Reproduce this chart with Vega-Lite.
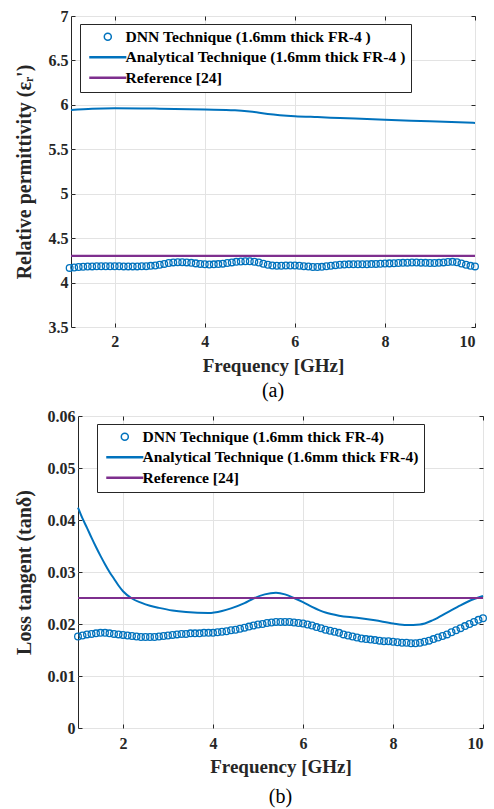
{
  "$schema": "https://vega.github.io/schema/vega-lite/v6.json",
  "padding": {"left": 13, "top": 7, "right": 5, "bottom": 5},
  "spacing": 5,
  "datasets": {
    "eps": [
      {"s":"DNN","f":1.0,"v":4.165},{"s":"DNN","f":1.1,"v":4.170},{"s":"DNN","f":1.2,"v":4.175},{"s":"DNN","f":1.3,"v":4.178},{"s":"DNN","f":1.4,"v":4.180},{"s":"DNN","f":1.5,"v":4.182},{"s":"DNN","f":1.6,"v":4.183},{"s":"DNN","f":1.7,"v":4.183},{"s":"DNN","f":1.8,"v":4.183},{"s":"DNN","f":1.9,"v":4.183},
      {"s":"DNN","f":2.0,"v":4.183},{"s":"DNN","f":2.1,"v":4.183},{"s":"DNN","f":2.2,"v":4.182},{"s":"DNN","f":2.3,"v":4.182},{"s":"DNN","f":2.4,"v":4.182},{"s":"DNN","f":2.5,"v":4.182},{"s":"DNN","f":2.6,"v":4.183},{"s":"DNN","f":2.7,"v":4.185},{"s":"DNN","f":2.8,"v":4.188},{"s":"DNN","f":2.9,"v":4.193},
      {"s":"DNN","f":3.0,"v":4.200},{"s":"DNN","f":3.1,"v":4.210},{"s":"DNN","f":3.2,"v":4.220},{"s":"DNN","f":3.3,"v":4.227},{"s":"DNN","f":3.4,"v":4.230},{"s":"DNN","f":3.5,"v":4.230},{"s":"DNN","f":3.6,"v":4.227},{"s":"DNN","f":3.7,"v":4.222},{"s":"DNN","f":3.8,"v":4.216},{"s":"DNN","f":3.9,"v":4.210},
      {"s":"DNN","f":4.0,"v":4.206},{"s":"DNN","f":4.1,"v":4.204},{"s":"DNN","f":4.2,"v":4.205},{"s":"DNN","f":4.3,"v":4.208},{"s":"DNN","f":4.4,"v":4.213},{"s":"DNN","f":4.5,"v":4.220},{"s":"DNN","f":4.6,"v":4.227},{"s":"DNN","f":4.7,"v":4.233},{"s":"DNN","f":4.8,"v":4.237},{"s":"DNN","f":4.9,"v":4.240},
      {"s":"DNN","f":5.0,"v":4.240},{"s":"DNN","f":5.1,"v":4.235},{"s":"DNN","f":5.2,"v":4.225},{"s":"DNN","f":5.3,"v":4.212},{"s":"DNN","f":5.4,"v":4.200},{"s":"DNN","f":5.5,"v":4.193},{"s":"DNN","f":5.6,"v":4.190},{"s":"DNN","f":5.7,"v":4.190},{"s":"DNN","f":5.8,"v":4.192},{"s":"DNN","f":5.9,"v":4.193},
      {"s":"DNN","f":6.0,"v":4.193},{"s":"DNN","f":6.1,"v":4.190},{"s":"DNN","f":6.2,"v":4.185},{"s":"DNN","f":6.3,"v":4.180},{"s":"DNN","f":6.4,"v":4.176},{"s":"DNN","f":6.5,"v":4.175},{"s":"DNN","f":6.6,"v":4.177},{"s":"DNN","f":6.7,"v":4.183},{"s":"DNN","f":6.8,"v":4.190},{"s":"DNN","f":6.9,"v":4.196},
      {"s":"DNN","f":7.0,"v":4.200},{"s":"DNN","f":7.1,"v":4.203},{"s":"DNN","f":7.2,"v":4.205},{"s":"DNN","f":7.3,"v":4.206},{"s":"DNN","f":7.4,"v":4.206},{"s":"DNN","f":7.5,"v":4.206},{"s":"DNN","f":7.6,"v":4.207},{"s":"DNN","f":7.7,"v":4.208},{"s":"DNN","f":7.8,"v":4.210},{"s":"DNN","f":7.9,"v":4.212},
      {"s":"DNN","f":8.0,"v":4.214},{"s":"DNN","f":8.1,"v":4.216},{"s":"DNN","f":8.2,"v":4.218},{"s":"DNN","f":8.3,"v":4.220},{"s":"DNN","f":8.4,"v":4.222},{"s":"DNN","f":8.5,"v":4.224},{"s":"DNN","f":8.6,"v":4.225},{"s":"DNN","f":8.7,"v":4.225},{"s":"DNN","f":8.8,"v":4.224},{"s":"DNN","f":8.9,"v":4.222},
      {"s":"DNN","f":9.0,"v":4.220},{"s":"DNN","f":9.1,"v":4.220},{"s":"DNN","f":9.2,"v":4.222},{"s":"DNN","f":9.3,"v":4.227},{"s":"DNN","f":9.4,"v":4.232},{"s":"DNN","f":9.5,"v":4.233},{"s":"DNN","f":9.6,"v":4.228},{"s":"DNN","f":9.7,"v":4.215},{"s":"DNN","f":9.8,"v":4.200},{"s":"DNN","f":9.9,"v":4.188},
      {"s":"DNN","f":10.0,"v":4.182},
      {"s":"Analytical","f":1.03,"v":5.943},{"s":"Analytical","f":1.5,"v":5.957},{"s":"Analytical","f":2,"v":5.962},{"s":"Analytical","f":3,"v":5.957},{"s":"Analytical","f":4,"v":5.948},{"s":"Analytical","f":4.67,"v":5.94},{"s":"Analytical","f":5,"v":5.926},{"s":"Analytical","f":5.4,"v":5.898},{"s":"Analytical","f":6,"v":5.873},{"s":"Analytical","f":6.5,"v":5.862},{"s":"Analytical","f":7,"v":5.852},{"s":"Analytical","f":8,"v":5.832},{"s":"Analytical","f":9,"v":5.815},{"s":"Analytical","f":10,"v":5.797},
      {"s":"Reference","f":1.03,"v":4.3},{"s":"Reference","f":10,"v":4.3}
    ],
    "tan": [
      {"s":"DNN","f":1.0,"v":0.0176},{"s":"DNN","f":1.1,"v":0.0178},{"s":"DNN","f":1.2,"v":0.0180},{"s":"DNN","f":1.3,"v":0.0181},{"s":"DNN","f":1.4,"v":0.0182},{"s":"DNN","f":1.5,"v":0.0183},{"s":"DNN","f":1.6,"v":0.0183},{"s":"DNN","f":1.7,"v":0.0182},{"s":"DNN","f":1.8,"v":0.0181},{"s":"DNN","f":1.9,"v":0.0180},
      {"s":"DNN","f":2.0,"v":0.0179},{"s":"DNN","f":2.1,"v":0.0178},{"s":"DNN","f":2.2,"v":0.0177},{"s":"DNN","f":2.3,"v":0.0176},{"s":"DNN","f":2.4,"v":0.0175},{"s":"DNN","f":2.5,"v":0.0175},{"s":"DNN","f":2.6,"v":0.0175},{"s":"DNN","f":2.7,"v":0.0175},{"s":"DNN","f":2.8,"v":0.0176},{"s":"DNN","f":2.9,"v":0.0177},
      {"s":"DNN","f":3.0,"v":0.0178},{"s":"DNN","f":3.1,"v":0.0179},{"s":"DNN","f":3.2,"v":0.0180},{"s":"DNN","f":3.3,"v":0.0181},{"s":"DNN","f":3.4,"v":0.0181},{"s":"DNN","f":3.5,"v":0.0182},{"s":"DNN","f":3.6,"v":0.0182},{"s":"DNN","f":3.7,"v":0.0182},{"s":"DNN","f":3.8,"v":0.0183},{"s":"DNN","f":3.9,"v":0.0183},
      {"s":"DNN","f":4.0,"v":0.0183},{"s":"DNN","f":4.1,"v":0.0184},{"s":"DNN","f":4.2,"v":0.0185},{"s":"DNN","f":4.3,"v":0.0186},{"s":"DNN","f":4.4,"v":0.0188},{"s":"DNN","f":4.5,"v":0.0189},{"s":"DNN","f":4.6,"v":0.0191},{"s":"DNN","f":4.7,"v":0.0193},{"s":"DNN","f":4.8,"v":0.0195},{"s":"DNN","f":4.9,"v":0.0197},
      {"s":"DNN","f":5.0,"v":0.0199},{"s":"DNN","f":5.1,"v":0.0200},{"s":"DNN","f":5.2,"v":0.0202},{"s":"DNN","f":5.3,"v":0.0203},{"s":"DNN","f":5.4,"v":0.0204},{"s":"DNN","f":5.5,"v":0.0204},{"s":"DNN","f":5.6,"v":0.0204},{"s":"DNN","f":5.7,"v":0.0204},{"s":"DNN","f":5.8,"v":0.0203},{"s":"DNN","f":5.9,"v":0.0202},
      {"s":"DNN","f":6.0,"v":0.0201},{"s":"DNN","f":6.1,"v":0.0199},{"s":"DNN","f":6.2,"v":0.0197},{"s":"DNN","f":6.3,"v":0.0194},{"s":"DNN","f":6.4,"v":0.0192},{"s":"DNN","f":6.5,"v":0.0189},{"s":"DNN","f":6.6,"v":0.0187},{"s":"DNN","f":6.7,"v":0.0185},{"s":"DNN","f":6.8,"v":0.0183},{"s":"DNN","f":6.9,"v":0.0180},
      {"s":"DNN","f":7.0,"v":0.0178},{"s":"DNN","f":7.1,"v":0.0176},{"s":"DNN","f":7.2,"v":0.0174},{"s":"DNN","f":7.3,"v":0.0172},{"s":"DNN","f":7.4,"v":0.0171},{"s":"DNN","f":7.5,"v":0.0170},{"s":"DNN","f":7.6,"v":0.0169},{"s":"DNN","f":7.7,"v":0.0168},{"s":"DNN","f":7.8,"v":0.0167},{"s":"DNN","f":7.9,"v":0.0167},
      {"s":"DNN","f":8.0,"v":0.0166},{"s":"DNN","f":8.1,"v":0.0165},{"s":"DNN","f":8.2,"v":0.0164},{"s":"DNN","f":8.3,"v":0.0164},{"s":"DNN","f":8.4,"v":0.0163},{"s":"DNN","f":8.5,"v":0.0163},{"s":"DNN","f":8.6,"v":0.0164},{"s":"DNN","f":8.7,"v":0.0166},{"s":"DNN","f":8.8,"v":0.0168},{"s":"DNN","f":8.9,"v":0.0171},
      {"s":"DNN","f":9.0,"v":0.0174},{"s":"DNN","f":9.1,"v":0.0177},{"s":"DNN","f":9.2,"v":0.0180},{"s":"DNN","f":9.3,"v":0.0184},{"s":"DNN","f":9.4,"v":0.0188},{"s":"DNN","f":9.5,"v":0.0192},{"s":"DNN","f":9.6,"v":0.0196},{"s":"DNN","f":9.7,"v":0.0200},{"s":"DNN","f":9.8,"v":0.0204},{"s":"DNN","f":9.9,"v":0.0208},
      {"s":"DNN","f":10.0,"v":0.0211},
      {"s":"Analytical","f":1.0,"v":0.0424},{"s":"Analytical","f":1.1,"v":0.0403},{"s":"Analytical","f":1.2,"v":0.0385},{"s":"Analytical","f":1.3,"v":0.0366},{"s":"Analytical","f":1.4,"v":0.0348},{"s":"Analytical","f":1.5,"v":0.0331},{"s":"Analytical","f":1.6,"v":0.0315},{"s":"Analytical","f":1.7,"v":0.0300},{"s":"Analytical","f":1.8,"v":0.0287},{"s":"Analytical","f":1.9,"v":0.0274},{"s":"Analytical","f":2.0,"v":0.0263},{"s":"Analytical","f":2.2,"v":0.0249},{"s":"Analytical","f":2.4,"v":0.0241},{"s":"Analytical","f":2.6,"v":0.0235},{"s":"Analytical","f":2.8,"v":0.0231},{"s":"Analytical","f":3.1,"v":0.0226},{"s":"Analytical","f":3.4,"v":0.0223},{"s":"Analytical","f":3.9,"v":0.0221},{"s":"Analytical","f":4.2,"v":0.0225},{"s":"Analytical","f":4.4,"v":0.0230},{"s":"Analytical","f":4.7,"v":0.0240},{"s":"Analytical","f":4.9,"v":0.0249},{"s":"Analytical","f":5.15,"v":0.0257},{"s":"Analytical","f":5.4,"v":0.0260},{"s":"Analytical","f":5.6,"v":0.0257},{"s":"Analytical","f":5.8,"v":0.0250},{"s":"Analytical","f":6.0,"v":0.0242},{"s":"Analytical","f":6.2,"v":0.0233},{"s":"Analytical","f":6.5,"v":0.0222},{"s":"Analytical","f":6.8,"v":0.0216},{"s":"Analytical","f":7.2,"v":0.0212},{"s":"Analytical","f":7.6,"v":0.0207},{"s":"Analytical","f":8.0,"v":0.0201},{"s":"Analytical","f":8.3,"v":0.0198},{"s":"Analytical","f":8.6,"v":0.0199},{"s":"Analytical","f":8.9,"v":0.0208},{"s":"Analytical","f":9.2,"v":0.0222},{"s":"Analytical","f":9.5,"v":0.0236},{"s":"Analytical","f":9.8,"v":0.0248},{"s":"Analytical","f":10.0,"v":0.0254},
      {"s":"Reference","f":1,"v":0.025},{"s":"Reference","f":10,"v":0.025}
    ],
    "blank": [{"k": 0}]
  },
  "vconcat": [
    {
      "width": 404,
      "height": 311,
      "data": {"name": "eps"},
      "title": {"text": "(a)", "orient": "bottom", "font": "Liberation Serif", "fontSize": 20, "fontWeight": "normal", "color": "#000000", "offset": 6},
      "encoding": {
        "x": {"field": "f", "type": "quantitative", "scale": {"domain": [1.03, 10], "nice": false, "zero": false}, "axis": {"values": [2, 4, 6, 8, 10], "title": "Frequency [GHz]", "labelPadding": 10, "titlePadding": 7}},
        "y": {"field": "v", "type": "quantitative", "scale": {"domain": [3.5, 7], "nice": false, "zero": false}, "axis": {"values": [3.5, 4, 4.5, 5, 5.5, 6, 6.5, 7], "format": "~g", "title": "Relative permittivity (εᵣ')", "minExtent": 27, "maxExtent": 27, "titlePadding": 10}},
        "color": {"field": "s", "type": "nominal", "scale": {"domain": ["DNN", "Analytical", "Reference"], "range": ["#0072BD", "#0072BD", "#7E2F8E"]},
          "legend": {"orient": "none", "legendX": 9, "legendY": 8, "title": null, "labelExpr": "datum.value === 'DNN' ? 'DNN Technique (1.6mm thick FR-4 )' : datum.value === 'Analytical' ? 'Analytical Technique (1.6mm thick FR-4 )' : 'Reference [24]'", "labelLimit": 500, "symbolOffset": 15, "labelOffset": 10, "padding": 5, "rowPadding": 3.5, "strokeColor": "#262626", "fillColor": "#ffffff", "labelFont": "Liberation Serif", "labelFontWeight": "bold", "labelFontSize": 15.6, "labelColor": "#000000", "symbolSize": 49,
            "encode": {"symbols": {"update": {"fill": {"value": "transparent"}, "strokeWidth": {"signal": "datum.value === 'DNN' ? 1.5 : 2.5"}}}}}}
      },
      "layer": [
        {"transform": [{"filter": "datum.s === 'DNN'"}], "mark": {"type": "point", "filled": false, "size": 45, "strokeWidth": 1.3, "opacity": 1},
          "encoding": {"shape": {"field": "s", "type": "nominal", "scale": {"domain": ["DNN", "Analytical", "Reference"], "range": ["circle", "M-5.3,0H5.3", "M-5.3,0H5.3"]},
            "legend": {"orient": "none", "legendX": 9, "legendY": 8, "title": null, "labelExpr": "datum.value === 'DNN' ? 'DNN Technique (1.6mm thick FR-4 )' : datum.value === 'Analytical' ? 'Analytical Technique (1.6mm thick FR-4 )' : 'Reference [24]'", "labelLimit": 500, "symbolOffset": 15, "labelOffset": 10, "padding": 5, "rowPadding": 3.5, "strokeColor": "#262626", "fillColor": "#ffffff", "labelFont": "Liberation Serif", "labelFontWeight": "bold", "labelFontSize": 15.6, "labelColor": "#000000", "symbolSize": 49,
              "encode": {"symbols": {"update": {"fill": {"value": "transparent"}, "strokeWidth": {"signal": "datum.value === 'DNN' ? 1.5 : 2.5"}}}}}}}},
        {"transform": [{"filter": "datum.s === 'Analytical'"}], "mark": {"type": "line", "strokeWidth": 2, "interpolate": "monotone"},
          "encoding": {"x": {"field": "f", "type": "quantitative", "axis": null}, "y": {"field": "v", "type": "quantitative", "axis": null}}},
        {"transform": [{"filter": "datum.s === 'Reference'"}], "mark": {"type": "line", "strokeWidth": 2.2},
          "encoding": {"x": {"field": "f", "type": "quantitative", "axis": {"orient": "top", "values": [2, 4, 6, 8, 10], "labels": false, "title": null, "grid": false}}, "y": {"field": "v", "type": "quantitative", "axis": {"orient": "right", "values": [3.5, 4, 4.5, 5, 5.5, 6, 6.5, 7], "labels": false, "title": null, "grid": false}}}}
      ],
      "resolve": {"axis": {"x": "independent", "y": "independent"}}
    },
    {
      "spacing": 6,
      "bounds": "flush",
      "hconcat": [
        {
          "width": 1,
          "height": 1,
          "view": {"stroke": null},
          "data": {"name": "blank"},
          "mark": {"type": "point", "opacity": 0},
          "encoding": {}
        },
        {
          "width": 405,
          "height": 312,
          "data": {"name": "tan"},
          "title": {"text": "(b)", "orient": "bottom", "font": "Liberation Serif", "fontSize": 20, "fontWeight": "normal", "color": "#000000", "offset": 11},
          "encoding": {
            "x": {"field": "f", "type": "quantitative", "scale": {"domain": [1, 10], "nice": false, "zero": false}, "axis": {"values": [2, 4, 6, 8, 10], "title": "Frequency [GHz]", "labelPadding": 11, "titlePadding": 6}},
            "y": {"field": "v", "type": "quantitative", "scale": {"domain": [0, 0.06], "nice": false}, "axis": {"values": [0, 0.01, 0.02, 0.03, 0.04, 0.05, 0.06], "format": "~g", "title": "Loss tangent (tanδ)", "minExtent": 36, "maxExtent": 36, "titlePadding": 8}},
            "color": {"field": "s", "type": "nominal", "scale": {"domain": ["DNN", "Analytical", "Reference"], "range": ["#0072BD", "#0072BD", "#7E2F8E"]},
              "legend": {"orient": "none", "legendX": 19, "legendY": 8, "title": null, "labelExpr": "datum.value === 'DNN' ? 'DNN Technique (1.6mm thick FR-4)' : datum.value === 'Analytical' ? 'Analytical Technique (1.6mm thick FR-4)' : 'Reference [24]'", "labelLimit": 500, "symbolOffset": 15, "labelOffset": 10, "padding": 5, "rowPadding": 3.5, "strokeColor": "#262626", "fillColor": "#ffffff", "labelFont": "Liberation Serif", "labelFontWeight": "bold", "labelFontSize": 15.6, "labelColor": "#000000", "symbolSize": 49,
                "encode": {"symbols": {"update": {"fill": {"value": "transparent"}, "strokeWidth": {"signal": "datum.value === 'DNN' ? 1.5 : 2.5"}}}}}}
          },
          "layer": [
            {"transform": [{"filter": "datum.s === 'DNN'"}], "mark": {"type": "point", "filled": false, "size": 45, "strokeWidth": 1.3, "opacity": 1},
              "encoding": {"shape": {"field": "s", "type": "nominal", "scale": {"domain": ["DNN", "Analytical", "Reference"], "range": ["circle", "M-5.3,0H5.3", "M-5.3,0H5.3"]},
                "legend": {"orient": "none", "legendX": 19, "legendY": 8, "title": null, "labelExpr": "datum.value === 'DNN' ? 'DNN Technique (1.6mm thick FR-4)' : datum.value === 'Analytical' ? 'Analytical Technique (1.6mm thick FR-4)' : 'Reference [24]'", "labelLimit": 500, "symbolOffset": 15, "labelOffset": 10, "padding": 5, "rowPadding": 3.5, "strokeColor": "#262626", "fillColor": "#ffffff", "labelFont": "Liberation Serif", "labelFontWeight": "bold", "labelFontSize": 15.6, "labelColor": "#000000", "symbolSize": 49,
                  "encode": {"symbols": {"update": {"fill": {"value": "transparent"}, "strokeWidth": {"signal": "datum.value === 'DNN' ? 1.5 : 2.5"}}}}}}}},
            {"transform": [{"filter": "datum.s === 'Analytical'"}], "mark": {"type": "line", "strokeWidth": 2, "interpolate": "monotone"},
              "encoding": {"x": {"field": "f", "type": "quantitative", "axis": null}, "y": {"field": "v", "type": "quantitative", "axis": null}}},
            {"transform": [{"filter": "datum.s === 'Reference'"}], "mark": {"type": "line", "strokeWidth": 2.2},
              "encoding": {"x": {"field": "f", "type": "quantitative", "axis": {"orient": "top", "values": [2, 4, 6, 8, 10], "labels": false, "title": null, "grid": false}}, "y": {"field": "v", "type": "quantitative", "axis": {"orient": "right", "values": [0, 0.01, 0.02, 0.03, 0.04, 0.05, 0.06], "labels": false, "title": null, "grid": false}}}}
          ],
          "resolve": {"axis": {"x": "independent", "y": "independent"}}
        }
      ],
      "resolve": {"scale": {"color": "independent", "shape": "independent"}, "legend": {"color": "independent", "shape": "independent"}}
    }
  ],
  "resolve": {"scale": {"color": "independent", "shape": "independent"}, "legend": {"color": "independent", "shape": "independent"}},
  "config": {
    "background": "#ffffff",
    "view": {"stroke": "#262626", "strokeWidth": 1},
    "axis": {
      "labelFont": "Liberation Serif", "labelFontWeight": "bold", "labelFontSize": 16, "labelColor": "#262626",
      "titleFont": "Liberation Serif", "titleFontWeight": "bold", "titleColor": "#262626",
      "grid": true, "gridColor": "#e3e3e3", "gridWidth": 1,
      "domain": false, "ticks": true, "tickSize": -4, "tickColor": "#262626", "tickWidth": 1
    },
    "axisX": {"titleFontSize": 19},
    "axisY": {"labelPadding": 7, "titleFontSize": 20}
  }
}
